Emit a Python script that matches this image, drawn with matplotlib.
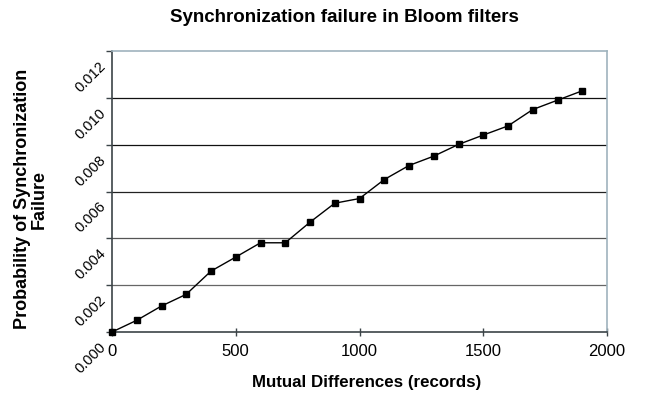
import matplotlib.pyplot as plt
import matplotlib.transforms as mtransforms

plt.rcParams['font.family'] = ['Liberation Sans', 'DejaVu Sans']

# Data
differences = [0, 100, 200, 300, 400, 500, 600, 700, 800, 900, 1000,
               1100, 1200, 1300, 1400, 1500, 1600, 1700, 1800, 1900]
failure_prob = [0.0, 0.0005, 0.00111, 0.00161, 0.0026, 0.0032, 0.00381, 0.00381,
                0.00469, 0.0055, 0.0057, 0.00651, 0.00711, 0.00751, 0.00801,
                0.00841, 0.0088, 0.0095, 0.0099, 0.0103]
y_ticks = [0.000, 0.002, 0.004, 0.006, 0.008, 0.010, 0.012]
x_ticks = [0, 500, 1000, 1500, 2000]

fig = plt.figure(figsize=(6.55, 4.08), dpi=100)
ax = fig.add_axes([112 / 655, 1 - 332 / 408, (607 - 112) / 655, (332 - 51) / 408])

# horizontal gridlines
for y, c in zip(y_ticks[1:-1], ['#666666', '#555555', '#222222', '#111111', '#111111']):
    ax.axhline(y, color=c, lw=0.9, zorder=1)

ax.plot(differences, failure_prob, color='black', lw=1.0, marker='s',
        markersize=4.5, zorder=3, clip_on=False)

ax.set_xlim(0, 2000)
ax.set_ylim(0, 0.012)
ax.set_xticks(x_ticks)
ax.set_yticks(y_ticks)
ax.set_xticklabels([str(v) for v in x_ticks], fontsize=12)
ax.set_yticklabels([])

# slanted y labels sit down-left of their ticks, like the original
lbl_tr = ax.get_yaxis_transform() + mtransforms.ScaledTranslation(-13 / 100, -8 / 100,
                                                                  fig.dpi_scale_trans)
for v in y_ticks:
    ax.text(0, v, '%.3f' % v, transform=lbl_tr, fontsize=10.5, rotation=45,
            ha='right', va='top', rotation_mode='anchor', clip_on=False)

for s in ['left', 'bottom']:
    ax.spines[s].set_color('#3c4448')
    ax.spines[s].set_linewidth(1.2)
for s in ['top', 'right']:
    ax.spines[s].set_color('#9fb3bd')
    ax.spines[s].set_linewidth(1.2)

ax.tick_params(axis='x', direction='inout', length=6, width=1, color='#3c4448', pad=6)
ax.tick_params(axis='y', direction='out', length=4, width=1, color='#3c4448', pad=4)

fig.text(367 / 655, 1 - 382 / 408, 'Mutual Differences (records)', fontsize=12.2,
         fontweight='bold', ha='center', va='center')
fig.text(31 / 655, 1 - 199 / 408, 'Probability of Synchronization\nFailure', fontsize=13,
         fontweight='bold', ha='center', va='center', rotation=90,
         multialignment='center', linespacing=1.0)
fig.text(344 / 655, 1 - 18 / 408, 'Synchronization failure in Bloom filters',
         fontsize=13.5, fontweight='bold', ha='center', va='center')

fig.savefig('out.png', dpi=100)
